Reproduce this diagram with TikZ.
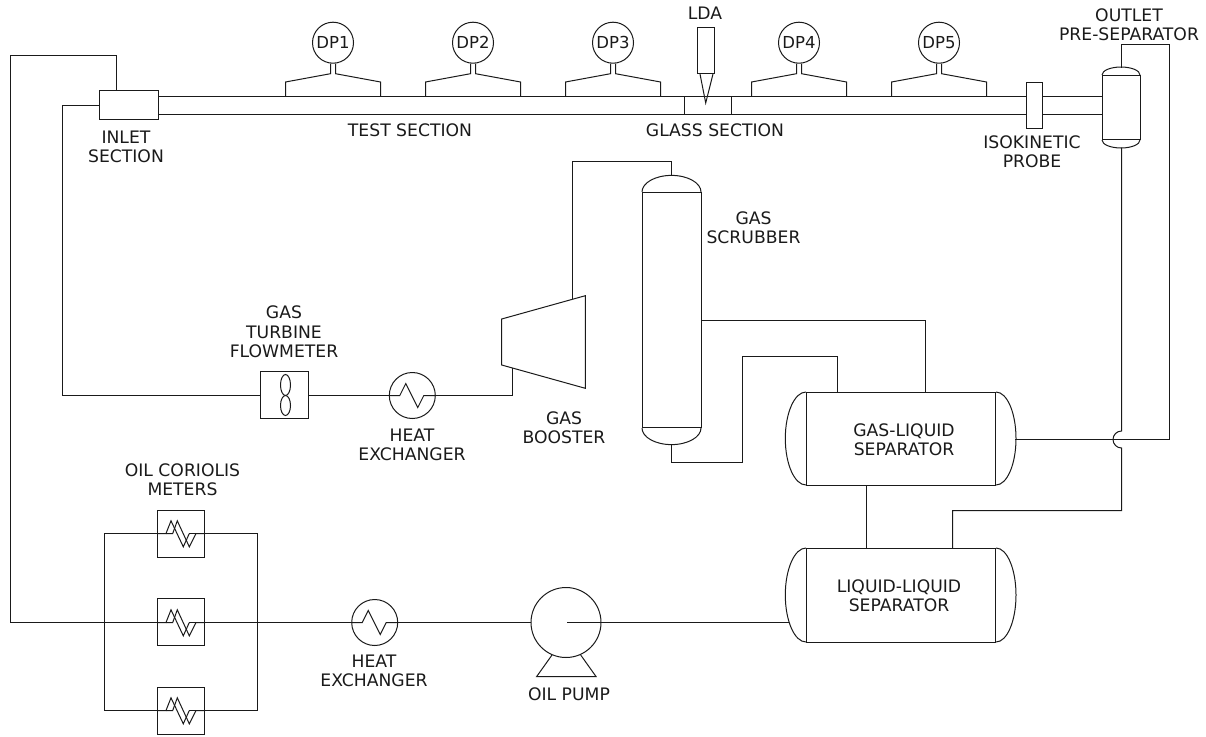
\documentclass[tikz,border=0pt]{standalone}
\usepackage{fontspec}
\setmainfont{DejaVu Sans}
\usepackage{xcolor}
\usetikzlibrary{calc,positioning}
\definecolor{ink}{HTML}{1A1A1A}
\tikzset{
  pipe/.style={draw=ink,line width=1pt,line join=miter},
  unitbox/.style={draw=ink,line width=1pt,rectangle,inner sep=0pt},
  gauge/.style={draw=ink,line width=1pt,circle,inner sep=0pt,minimum size=41pt,
                font=\fontsize{16.5}{19}\selectfont,text=ink},
  tag/.style={align=center,inner sep=0pt,text=ink,
              font=\fontsize{17.2}{19.3}\selectfont},
}
\begin{document}
\begin{tikzpicture}[x=1pt,y=-1pt]
  \useasboundingbox (0,0) rectangle (1206,736);
  % test line
  \node[unitbox,minimum width=59pt,minimum height=29pt](inlet)at(129,105){};
  \node[unitbox,minimum width=868pt,minimum height=18pt](testpipe)at(592.5,105.5){};
  \node[unitbox,minimum width=47pt,minimum height=18pt](glass)at(708,105.5){};
  \node[unitbox,minimum width=16pt,minimum height=46pt](probe)at(1034.5,105.5){};
  \node[unitbox,minimum width=60pt,minimum height=18pt](outpipe)at(1072.5,105.5){};
  \foreach \n/\cx in {1/333,2/473,3/613,4/799,5/939}{
    \node[gauge](dp\n)at(\cx,42.7){DP\n};
    \draw[pipe]($(dp\n.south)+(-2.5,0)$)--++(0,10)--(\cx-47.5,82)--(\cx-47.5,96.5);
    \draw[pipe]($(dp\n.south)+(2.5,0)$)--++(0,10)--(\cx+47.5,82)--(\cx+47.5,96.5);
  }
  % laser head
  \node[unitbox,minimum width=17pt,minimum height=46pt](lda)at(706,50.5){};
  \coordinate(ldatip)at(705.7,103);
  \draw[pipe]($(lda.south west)+(3,0)$)--(ldatip)--($(lda.south east)+(-2,0)$);
  % outlet pre-separator
  \node[unitbox,minimum width=38pt,minimum height=64pt](presep)at(1121.5,107.5){};
  \draw[pipe](presep.north west)arc[start angle=180,end angle=0,x radius=19pt,y radius=8pt];
  \draw[pipe](presep.south west)arc[start angle=180,end angle=360,x radius=19pt,y radius=8pt];
  \coordinate(presepin)at(1121.5,67.5);
  \coordinate(presepout)at(1121.5,147.5);
  % gas scrubber
  \node[unitbox,minimum width=59pt,minimum height=235pt](scrubber)at(672,310){};
  \draw[pipe](scrubber.north west)arc[start angle=180,end angle=0,x radius=29.5pt,y radius=16.6pt];
  \draw[pipe](scrubber.south west)arc[start angle=180,end angle=360,x radius=29.5pt,y radius=16.6pt];
  \coordinate(scrubin)at(671.5,175.9);
  \coordinate(scrubout)at(671.5,444.1);
  % separators
  \foreach \name/\cy/\ht in {glsep/439/93,llsep/595.5/94}{
    \node[unitbox,minimum width=189pt,minimum height=\ht pt](\name)at(901,\cy){};
    \draw[pipe](\name.north west)arc[start angle=90,end angle=270,x radius=20.7pt,y radius=\ht pt/2];
    \draw[pipe](\name.north east)arc[start angle=90,end angle=-90,x radius=20pt,y radius=\ht pt/2];
  }
  \coordinate(glout)at(1015,439.5);
  \coordinate(llin)at(789,622.5);
  % gas booster
  \coordinate(boosta)at(501.7,319);
  \coordinate(boostb)at(585.3,295.7);
  \coordinate(boostc)at(585.3,388.3);
  \coordinate(boostd)at(501.7,365);
  \draw[pipe](boosta)--(boostb)--(boostc)--(boostd)--cycle;
  \coordinate(boostout)at(572.5,299.2);
  \coordinate(boostin)at(512.5,368);
  % gas turbine flowmeter
  \node[unitbox,minimum width=48pt,minimum height=47pt](turbine)at(284.5,395){};
  \draw[pipe](285.5,385)circle[x radius=5pt,y radius=10.5pt];
  \draw[pipe](285.5,405.5)circle[x radius=5pt,y radius=10pt];
  % heat exchangers
  \foreach \name/\cx/\cy in {hxgas/412.3/395.5,hxoil/374.7/622.5}{
    \node[draw=ink,line width=1pt,circle,inner sep=0pt,minimum size=46pt](\name)at(\cx,\cy){};
    \draw[pipe](\name.west)--++(11,0)--++(6,-12)--++(12,24)--++(6,-12)--(\name.east);
  }
  % oil pump
  \node[draw=ink,line width=1pt,circle,inner sep=0pt,minimum size=70pt](pump)at(566,622.5){};
  \coordinate(pumpeye)at(567,622.5);
  \draw[pipe](552,655)--(536.7,676.5)--(596,676.5)--(580.7,655);
  % coriolis meters
  \foreach \name/\cy/\ly in {cora/534/533.5,corb/622/622.5,corc/711/710.5}{
    \node[unitbox,minimum size=47pt](\name)at(181,\cy){};
    \begin{scope}[shift={(181,\ly)}]
      \draw[pipe](-24,0)--(-15,0)--(-10,-12.7)--(2.3,13.3)--(8.3,0);
      \draw[pipe](-15,0)--(-8.3,0)--(-3.7,-12.7)--(8.3,13.3)--(15,0)--(24,0);
      \draw[pipe](8.3,0)--(15,0);
    \end{scope}
  }
  % manifold
  \coordinate(mfwest)at(104.5,622.5);
  \coordinate(mfeast)at(257.5,622.5);
  \draw[pipe](cora.west|-0,533.5)-|(mfwest)|-(corc.west|-0,710.5);
  \draw[pipe](cora.east|-0,533.5)-|(mfeast)|-(corc.east|-0,710.5);
  % gas loop
  \coordinate(gasbend)at(62.5,395.5);
  \draw[pipe](inlet.west|-0,105.5)-|(gasbend)--(turbine.west|-gasbend);
  \draw[pipe](turbine.east|-gasbend)--(hxgas.west);
  \draw[pipe](hxgas.east)-|(boostin);
  \draw[pipe](boostout)|-(671.5,161.5)--(scrubin);
  \draw[pipe](scrubber.east|-0,320.5)-|(925.5,392.5);
  \draw[pipe](scrubout)--(671.5,462.5)-|(742.5,356.5)-|(837.5,392.5);
  % liquid loop
  \coordinate(hopup)at(1121.5,431);
  \coordinate(hopdown)at(1121.5,448);
  \draw[pipe](presepin)--(1121.5,44.5)-|(1169.5,439.5)--(glout);
  \draw[pipe](presepout)--(hopup)arc[start angle=90,end angle=270,x radius=8.5pt,y radius=8.5pt]
    --(hopdown)--(1121.5,510.5)-|(952.5,548.5);
  \draw[pipe](866.5,485.5)--(866.5,548.5);
  \draw[pipe](pumpeye)--(llin);
  \draw[pipe](pump.west)--(hxoil.east);
  \draw[pipe](hxoil.west)--(corb.east|-hxoil);
  \draw[pipe](corb.west|-hxoil)--(10.5,622.5)--(10.5,55.5)-|(116.5,90.5);
  % labels
  \node[tag](lblinlet)at(126,147){INLET\\SECTION};
  \node[tag](lbltest)at(410,130){TEST SECTION};
  \node[tag](lblglass)at(715,130){GLASS SECTION};
  \node[tag](lbllda)at(705,13){LDA};
  \node[tag](lblprobe)at(1032,152){ISOKINETIC\\PROBE};
  \node[tag](lblpresep)at(1129,25){OUTLET\\PRE-SEPARATOR};
  \node[tag](lblscrub)at(753.5,228){GAS\\SCRUBBER};
  \node[tag](lblturbine)at(284,332){GAS\\TURBINE\\FLOWMETER};
  \node[tag](lblhxgas)at(412,445){HEAT\\EXCHANGER};
  \node[tag](lblbooster)at(564,428){GAS\\BOOSTER};
  \node[tag](lblglsep)at(904,440){GAS-LIQUID\\SEPARATOR};
  \node[tag](lblllsep)at(899,596){LIQUID-LIQUID\\SEPARATOR};
  \node[tag](lblcor)at(182.5,480){OIL CORIOLIS\\METERS};
  \node[tag](lblhxoil)at(374,670.5){HEAT\\EXCHANGER};
  \node[tag](lblpump)at(569,694){OIL PUMP};
\end{tikzpicture}
\end{document}
